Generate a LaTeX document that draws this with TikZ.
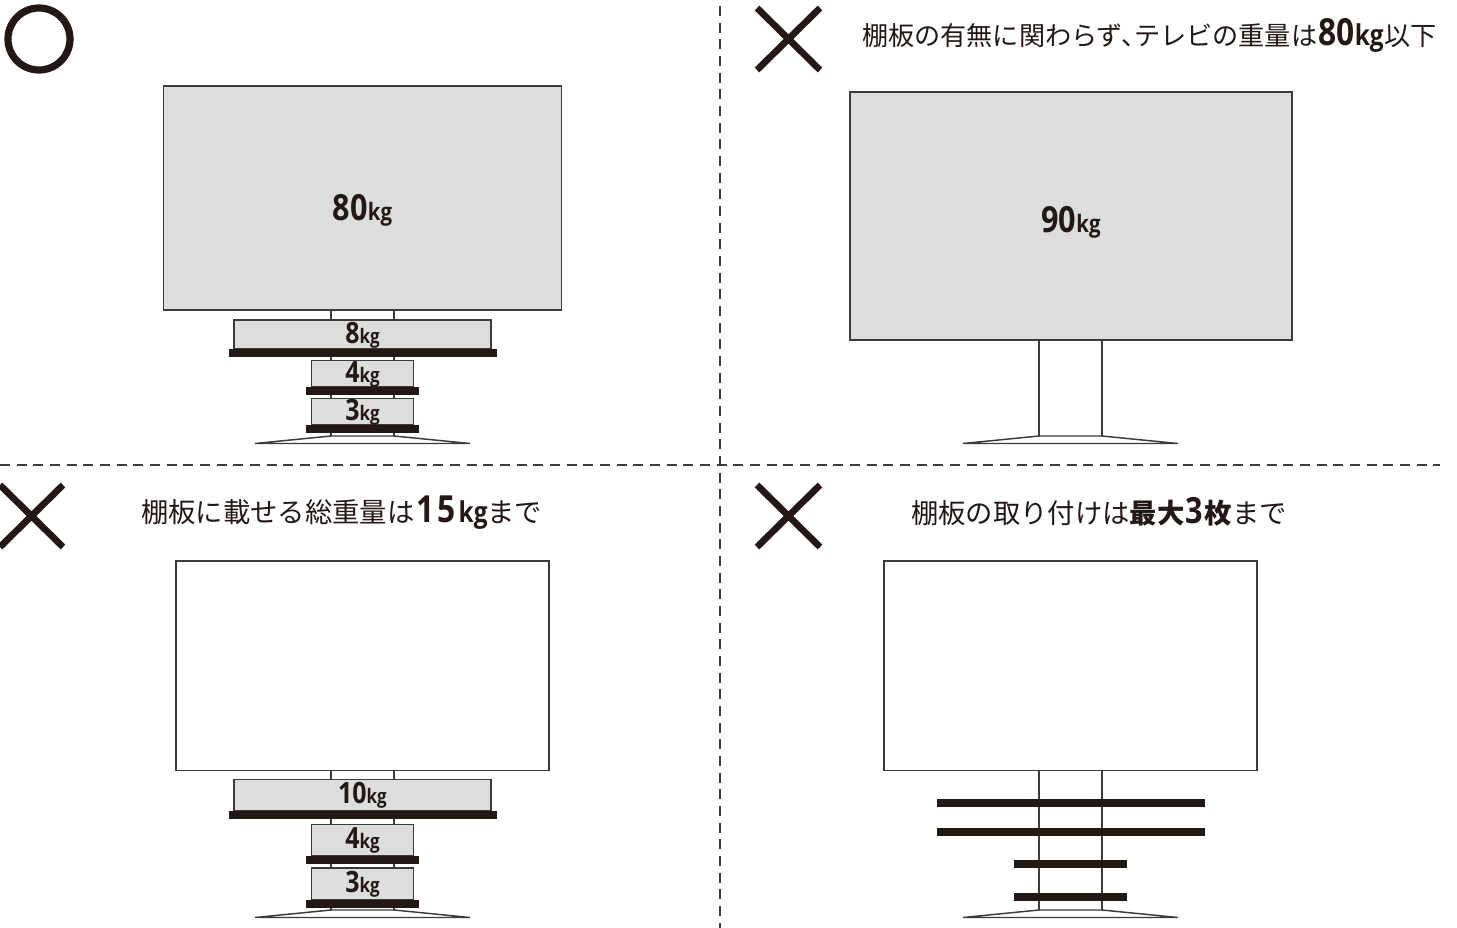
\documentclass[tikz,border=0pt]{standalone}
\usepackage{fontspec}
\newfontfamily\jp{Noto Sans CJK JP}
\newfontfamily\num[FakeStretch=0.85]{Open Sans}
\definecolor{ink}{HTML}{231815}
\definecolor{tvgray}{HTML}{DCDDDD}
\definecolor{edge}{HTML}{3E3A39}
\newcommand{\jt}[1]{{\jp\fontsize{20.5}{25}\selectfont #1}}
\newcommand{\js}[1]{{\jp\fontsize{19.6}{25}\selectfont #1}}
\newcommand{\jb}[1]{{\jp\bfseries\fontsize{20.5}{25}\selectfont #1}}
\newcommand{\bt}[2]{{\num\bfseries\fontsize{28}{25}\selectfont #1\kern#2{\fontsize{21.5}{25}\selectfont kg}}}
\newcommand{\wa}[3]{{\num\bfseries\fontsize{#1}{#1}\selectfont #3{\fontsize{#2}{10}\selectfont kg}}}
\tikzset{
  x=0.75pt,y=-0.75pt,
  outline/.style={draw=edge,line width=1pt},
  grayfill/.style={outline,fill=tvgray},
  whitefill/.style={outline,fill=white},
  shelfbar/.style={fill=ink,draw=none},
  divider/.style={draw=edge,line width=1pt,dash pattern=on 7.5pt off 5pt},
  cross/.style={draw=ink,line width=5pt},
  label/.style={text=ink,inner sep=0pt,anchor=center},
  titlelabel/.style={text=ink,inner sep=0pt,anchor=west},
}
\newcommand{\standbase}[2]{% centre x, top y
  \draw[outline,fill=white,line width=1.1pt] (#1-31.5,#2) -- (#1+31.5,#2) -- (#1+107.5,#2+7.5) -- (#1-107.5,#2+7.5) -- cycle;
}
\begin{document}
\begin{tikzpicture}
\useasboundingbox (0,0) rectangle (1457,928);
\fill[white] (0,0) rectangle (1457,928);
% dividers
\coordinate (vt) at (720,6); \coordinate (vb) at (720,928);
\coordinate (hl) at (0,465); \coordinate (hr) at (1440,465);
\draw[divider] (vt) -- (vb);
\draw[divider] (hl) -- (hr);
% marks
\node[circle,draw=ink,line width=5.4pt,minimum size=46.5pt,inner sep=0pt] (okmark) at (39,39) {};
\draw[cross] (757,8) -- (820,70) (820,8) -- (757,70);
\draw[cross] (0,485) -- (63,547) (63,485) -- (0,547);
\draw[cross] (757,485) -- (820,547) (820,485) -- (757,547);
% titles
\node[titlelabel] (t1) at (862,35.5) {\js{棚板の有無に関わらず、\kern-0.5em テレビの重量は}\kern1pt\bt{80}{0pt}\kern0.5pt\js{以下}};
\node[titlelabel] (t2) at (141,512.5) {\jt{棚板に載せる総重量は}\kern1.5pt\bt{1\kern2.2pt 5}{2.2pt}\jt{まで}};
\node[titlelabel] (t3) at (911,511.5) {\jt{棚板の取り付けは}\jb{最大}\kern1pt{\num\bfseries\fontsize{27}{25}\selectfont 3}\kern1pt\jb{枚}\jt{まで}};
% panel A
\draw[outline] (331,310) -- (331,436) (394,310) -- (394,436);
\standbase{362.5}{436}
\draw[grayfill] (163.5,86) rectangle (561.5,310);
\node[label] (a0) at (362.5,210) {\wa{27}{18}{80}};
\draw[grayfill] (234,320) rectangle (491,349);
\fill[shelfbar] (229,349) rectangle (497,357);
\node[label] (a1) at (362.5,335) {\wa{22}{15}{8}};
\draw[grayfill] (311.5,360.5) rectangle (413.5,387);
\fill[shelfbar] (306,387) rectangle (419,395);
\node[label] (a2) at (362.5,374) {\wa{22}{15}{4}};
\draw[grayfill] (311.5,398.5) rectangle (413.5,425);
\fill[shelfbar] (306,425) rectangle (419,433);
\node[label] (a3) at (362.5,412) {\wa{22}{15}{3}};
% panel B
\draw[outline] (1039,340) -- (1039,436) (1102,340) -- (1102,436);
\standbase{1070.5}{436}
\draw[grayfill] (850,92) rectangle (1292,340);
\node[label] (b0) at (1071,222) {\wa{27}{18}{90}};
% panel C
\draw[outline] (331,770) -- (331,910) (394,770) -- (394,910);
\standbase{362.5}{910}
\draw[whitefill] (176,561) rectangle (549,770.5);
\draw[grayfill] (234,779.5) rectangle (491,811);
\fill[shelfbar] (229,811) rectangle (497,819);
\node[label] (c1) at (362.5,795) {\wa{22}{15}{10}};
\draw[grayfill] (311.5,824.5) rectangle (413.5,856);
\fill[shelfbar] (306,856) rectangle (419,864);
\node[label] (c2) at (362.5,840) {\wa{22}{15}{4}};
\draw[grayfill] (311.5,868) rectangle (413.5,900);
\fill[shelfbar] (306,900) rectangle (419,908);
\node[label] (c3) at (362.5,884) {\wa{22}{15}{3}};
% panel D
\draw[outline] (1039,770) -- (1039,910) (1102,770) -- (1102,910);
\standbase{1070.5}{910}
\draw[whitefill] (884,561) rectangle (1257,770.5);
\fill[shelfbar] (937,799) rectangle (1205,807);
\fill[shelfbar] (937,828) rectangle (1205,836);
\fill[shelfbar] (1014,860) rectangle (1127,868);
\fill[shelfbar] (1014,893) rectangle (1127,901);
\end{tikzpicture}
\end{document}
